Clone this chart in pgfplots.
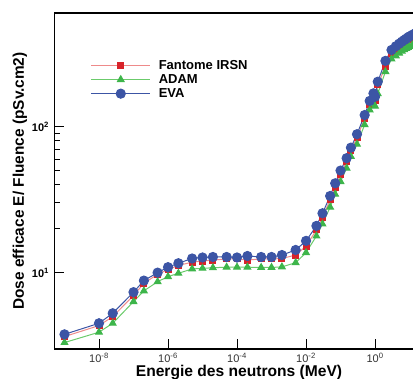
\documentclass[border=0pt]{standalone}
\usepackage{pgfplots}
\pgfplotsset{compat=1.18}
\usepackage{pgfplotstable}
\usepackage{fontspec}
\setmainfont{Liberation Sans}
\definecolor{cred}{HTML}{D8232A}
\definecolor{cpink}{HTML}{EE8A8A}
\definecolor{cgreen}{HTML}{3DB54A}
\definecolor{clgreen}{HTML}{6BCB6B}
\definecolor{cblue}{HTML}{3C55A5}
\pgfplotstableread{
x      red    green  blue
1e-9   3.65   3.32   3.78
1e-8   4.34   3.91   4.50
2.5e-8 5.0    4.50   5.27
1e-7   6.97   6.33   7.35
2e-7   8.45   7.50   8.82
5e-7   9.75   8.67   10.0
1e-6   10.5   9.39   10.9
2e-6   11.2   9.9    11.6
5e-6   11.8   10.6   12.5
1e-5   12.0   10.7   12.7
2e-5   12.2   10.8   12.8
5e-5   12.4   10.9   12.8
1e-4   12.4   10.9   12.7
2e-4   12.2   10.9   13.0
5e-4   12.4   10.85  12.8
1e-3   12.4   10.85  12.8
2e-3   12.5   10.95  13.2
5e-3   13.2   11.7   14.3
1e-2   15.2   13.7   16.5
2e-2   19.6   17.8   20.9
3e-2   23.9   21.5   25.5
5e-2   31.5   28.1   33.5
7e-2   38.2   34.4   40.9
0.1    47.2   42.0   50.0
0.15   57.5   51.9   60.8
0.2    68.5   62.4   71.8
0.3    84.1   75.7   88.7
0.5    114    103    120
0.7    142    130    150
0.9    160    143    169
1.0    152    138    160
1.2    193    168    203
2      258    238    282
3      318    290    335
4      340    305    355
5      355    318    370
6      367    328    382
7      377    336    392
8      385    343    400
9      392    349    408
10     398    354    415
12     408    362    425
14     415    368    432
15     418    371    436
16     422    374    440
18     427    378    445
20     432    382    450
}\datatab
\begin{document}
\begin{tikzpicture}
\begin{axis}[
  at={(0,0)}, anchor=south west,
  scale only axis, width=365.4pt, height=336pt,
  xmode=log, ymode=log,
  xmin=5.13e-10, xmax=19.95, ymin=3, ymax=600,
  axis line style={line width=1.6pt},
  tick align=inside,
  major tick length=10pt, minor tick length=6pt,
  every tick/.style={black, line width=1pt},
  xtick pos=bottom, ytick pos=left,
  xtick={1e-8,1e-6,1e-4,1e-2,1},
  xticklabels={{10\textsuperscript{-8}},{10\textsuperscript{-6}},{10\textsuperscript{-4}},{10\textsuperscript{-2}},{10\textsuperscript{0}}},
  xminorticks=false,
  ytick={10,100},
  yticklabels={{\textbf{10\textsuperscript{1}}},{\textbf{10\textsuperscript{2}}}},
  xticklabel style={font=\fontsize{11}{13}\selectfont, text=black!80, yshift=-1pt},
  yticklabel style={font=\fontsize{11}{13}\selectfont\bfseries, xshift=-2pt},
  xlabel={\textbf{Energie des neutrons (MeV)}},
  xlabel style={font=\fontsize{15.6}{18}\selectfont, at={(axis description cs:0.505,0)}, anchor=base, yshift=-28pt},
  ylabel={\textbf{Dose efficace E/ Fluence (pSv.cm2)}},
  ylabel style={font=\fontsize{15.4}{18}\selectfont, at={(axis description cs:-0.0944,0.5)}, anchor=center, rotate=0},
  legend style={draw=none, fill=none, at={(axis description cs:0.0987,0.866)}, anchor=north west,
    font=\fontsize{13}{15.6}\selectfont\bfseries, row sep=-0.4pt, inner sep=0pt},
  legend cell align=left,
  legend image code/.code={\draw[mark repeat=2,mark phase=2,#1] plot coordinates {(0pt,0pt) (29.5pt,0pt) (59pt,0pt)};\path (65pt,0pt);},
]
\addplot[cpink, line width=1pt, mark=square*, mark size=3pt, mark options={cred, fill=cred, solid}] table[x=x,y=red]{\datatab};
\addlegendentry{Fantome IRSN}
\addplot[clgreen, line width=1pt, mark=triangle*, mark size=3.8pt, mark options={cgreen, fill=cgreen, solid}] table[x=x,y=green]{\datatab};
\addlegendentry{ADAM}
\addplot[cblue, line width=1pt, mark=*, mark size=4.6pt, mark options={cblue, fill=cblue, solid}] table[x=x,y=blue]{\datatab};
\addlegendentry{EVA}
\end{axis}
\pgfresetboundingbox
\useasboundingbox (-54.5pt,-30pt) rectangle (358.5pt,349pt);
\end{tikzpicture}
\end{document}
